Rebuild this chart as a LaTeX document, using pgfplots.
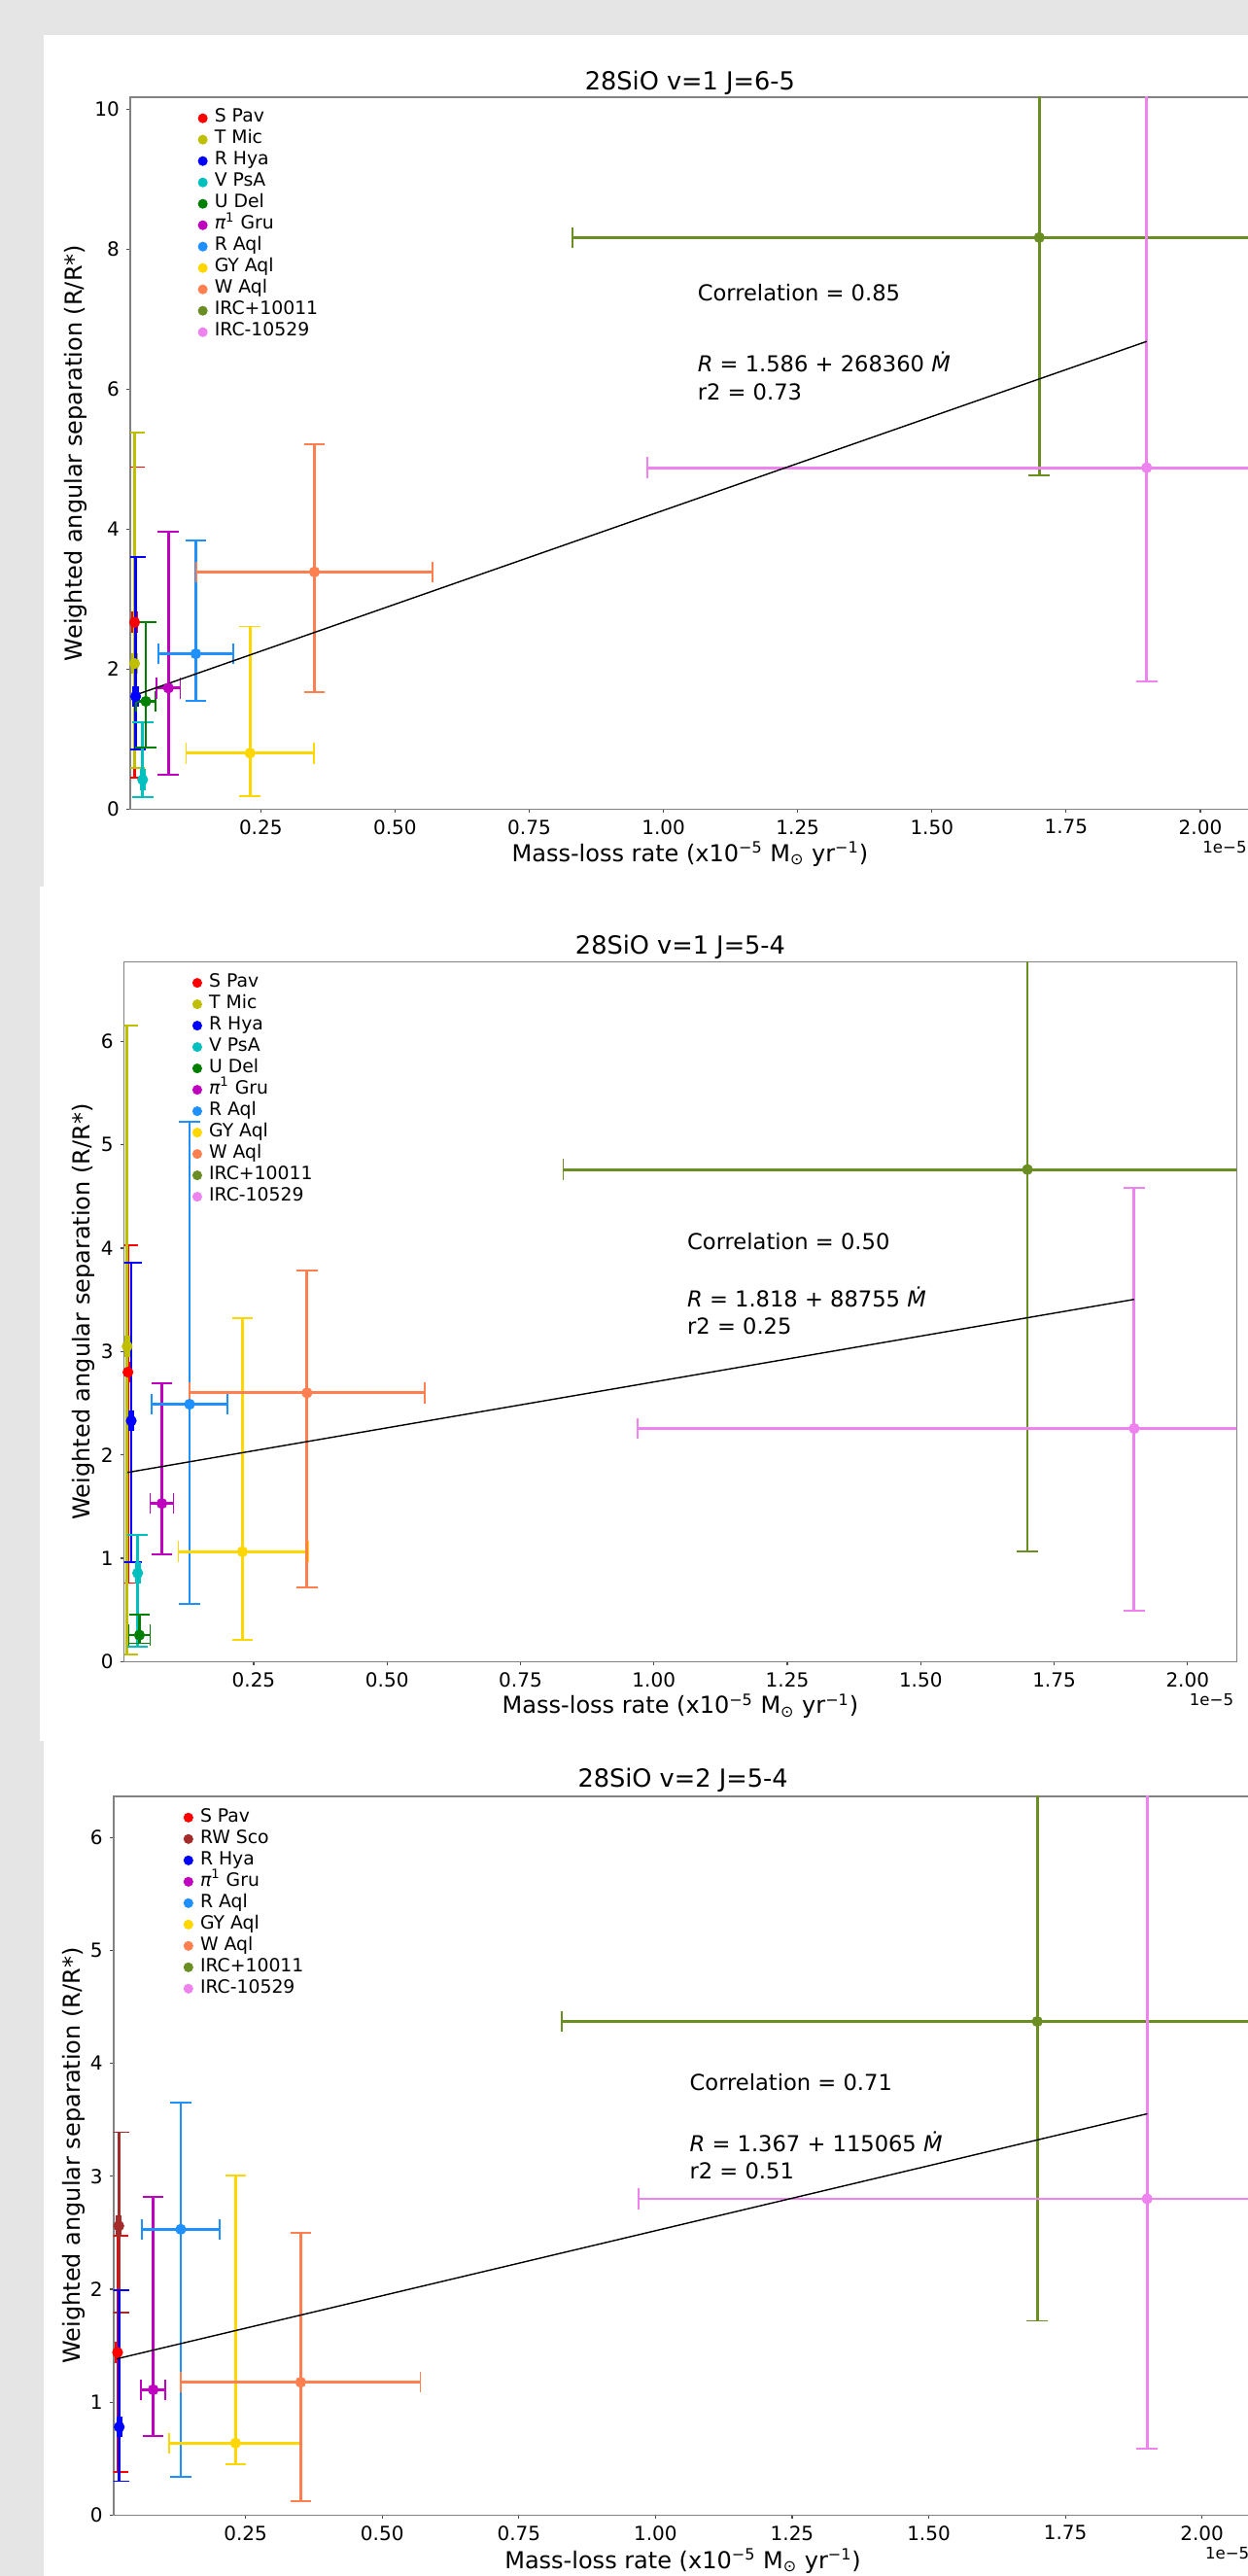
\documentclass[border=0pt]{standalone}
\usepackage{fontspec}
\setmainfont{DejaVu Sans}
\usepackage{pgfplots}
\pgfplotsset{compat=1.18}
\definecolor{cSPav}{rgb}{1,0,0}
\definecolor{cTMic}{rgb}{0.75,0.75,0}
\definecolor{cRHya}{rgb}{0,0,1}
\definecolor{cVPsA}{rgb}{0,0.75,0.75}
\definecolor{cUDel}{rgb}{0,0.5,0}
\definecolor{cPiGru}{rgb}{0.75,0,0.75}
\definecolor{cRAql}{RGB}{30,144,255}
\definecolor{cGYAql}{RGB}{255,215,0}
\definecolor{cWAql}{RGB}{255,127,80}
\definecolor{cIRCp}{RGB}{107,142,35}
\definecolor{cIRCm}{RGB}{238,130,238}
\definecolor{cRWSco}{RGB}{165,42,42}
\definecolor{bggray}{RGB}{229,229,229}
\definecolor{spine}{RGB}{130,130,130}

\tikzset{ann/.style={anchor=base west, inner sep=0pt, font=\fontsize{11.3}{13}\selectfont}}
\pgfplotsset{
  star/.style={only marks, mark=*, mark size=2.6pt, color=#1, mark options={draw=#1, fill=#1},
    error bars/x dir=both, error bars/x explicit,
    error bars/y dir=both, error bars/y explicit,
    error bars/error bar style={line width=1.4pt, color=#1},
    error bars/error mark options={rotate=90, mark size=5.4pt, line width=0.9pt, color=#1}},
  fitline/.style={black, line width=0.7pt, no marks, forget plot},
  panel/.style={scale only axis, anchor=south west,
    axis line style={spine, line width=0.8pt},
    tick align=outside, major tick length=2pt, tick style={black!70, line width=0.6pt},
    xtick={0.25,0.5,0.75,1,1.25,1.5,1.75,2},
    xticklabel style={/pgf/number format/.cd, fixed, fixed zerofill, precision=2, assume math mode=true},
    yticklabel style={/pgf/number format/assume math mode=true},
    tick label style={font=\fontsize{10}{12}\selectfont},
    xtick pos=bottom, ytick pos=left,
    legend cell align=left,
    legend image post style={mark size=2.3pt},
    legend style={draw=none, fill=none, inner sep=0pt, outer sep=0pt, anchor=north west,
      font=\fontsize{9.4}{11}\selectfont,
      nodes={inner sep=0pt, text height=7.6pt, text depth=3.4pt},
      /tikz/every odd column/.append style={column sep=3.8pt}},
    xlabel={Mass-loss rate (x10\textsuperscript{−5} M\textsubscript{⊙} yr\textsuperscript{−1})},
    ylabel={Weighted angular separation (R/R*)},
  },
}

\begin{document}
\begin{tikzpicture}
\useasboundingbox (0,0) rectangle (642pt,-1325pt);
\begin{scope}
\clip (0,0) rectangle (642pt,-1325pt);
\fill[bggray] (0,0) rectangle (642pt,-1325pt);
\fill[white] (22.5pt,-17.85pt) rectangle (642pt,-456pt);
\fill[white] (20.5pt,-456pt) rectangle (642pt,-895.5pt);
\fill[white] (22.5pt,-895.5pt) rectangle (642pt,-1325pt);

% ---------------- Panel 1 ----------------
\begin{axis}[panel, at={(67pt,-416.15pt)}, width=575.9pt, height=366.3pt,
  xmin=0.0069, xmax=2.092, ymin=0, ymax=10.18, ytick={0,2,4,6,8,10},
  title={28SiO v=1 J=6-5},
  every axis title/.style={at={(0.5,1.020)}, anchor=center, font=\fontsize{12.8}{15}\selectfont},
  every axis x label/.style={at={(0.5,-0.0628)}, anchor=center, font=\fontsize{12}{14}\selectfont},
  every axis y label/.style={at={(-0.0488,0.5)}, rotate=90, anchor=center, font=\fontsize{12}{14}\selectfont},
  legend style={at={(0.0608,0.985)}}]
\addplot[star=cSPav] coordinates {(0.015,2.67) += (0.004,2.22) -= (0.004,2.22)};
\addlegendentry{S Pav}
\addplot[star=cTMic] coordinates {(0.015,2.08) += (0.004,3.30) -= (0.004,1.49)};
\addlegendentry{T Mic}
\addplot[star=cRHya] coordinates {(0.017,1.61) += (0.004,1.99) -= (0.004,0.76)};
\addlegendentry{R Hya}
\addplot[star=cVPsA] coordinates {(0.030,0.42) += (0.004,0.82) -= (0.004,0.25)};
\addlegendentry{V PsA}
\addplot[star=cUDel] coordinates {(0.036,1.54) += (0.018,1.13) -= (0.018,0.66)};
\addlegendentry{U Del}
\addplot[star=cPiGru] coordinates {(0.078,1.73) += (0.022,2.23) -= (0.022,1.24)};
\addlegendentry{{\itshape π}\textsuperscript{1} Gru}
\addplot[star=cRAql] coordinates {(0.129,2.22) += (0.070,1.62) -= (0.070,0.67)};
\addlegendentry{R Aql}
\addplot[star=cGYAql] coordinates {(0.230,0.80) += (0.119,1.81) -= (0.119,0.61)};
\addlegendentry{GY Aql}
\addplot[star=cWAql] coordinates {(0.350,3.39) += (0.220,1.83) -= (0.220,1.72)};
\addlegendentry{W Aql}
\addplot[star=cIRCp] coordinates {(1.700,8.17) += (0.870,3.40) -= (0.870,3.40)};
\addlegendentry{IRC+10011}
\addplot[star=cIRCm] coordinates {(1.900,4.88) += (0.930,6.00) -= (0.930,3.06)};
\addlegendentry{IRC-10529}
\addplot[fitline] coordinates {(0.018,1.634) (1.900,6.685)};
\node[ann] at (axis cs:1.063,7.265) {Correlation = 0.85};
\node[ann] at (axis cs:1.063,6.255) {{\itshape R} = 1.586 + 268360 {\itshape Ṁ}};
\node[ann] at (axis cs:1.063,5.845) {r2 = 0.73};
\end{axis}
\node[anchor=east, inner sep=0pt, font=\fontsize{8.3}{10}\selectfont] at (641.5pt,-435.7pt) {1e−5};

% ---------------- Panel 2 ----------------
\begin{axis}[panel, at={(63.85pt,-854.7pt)}, width=572.3pt, height=360.05pt,
  xmin=0.0073, xmax=2.092, ymin=0, ymax=6.77, ytick={0,1,2,3,4,5,6},
  title={28SiO v=1 J=5-4},
  every axis title/.style={at={(0.5,1.0204)}, anchor=center, font=\fontsize{12.8}{15}\selectfont},
  every axis x label/.style={at={(0.5,-0.0637)}, anchor=center, font=\fontsize{12}{14}\selectfont},
  every axis y label/.style={at={(-0.0364,0.5)}, rotate=90, anchor=center, font=\fontsize{12}{14}\selectfont},
  legend style={at={(0.0617,0.985)}}]
\addplot[star=cSPav] coordinates {(0.0145,2.80) += (0.004,1.23) -= (0.004,2.04)};
\addlegendentry{S Pav}
\addplot[star=cTMic] coordinates {(0.013,3.05) += (0.004,3.10) -= (0.004,2.98)};
\addlegendentry{T Mic}
\addplot[star=cRHya] coordinates {(0.0206,2.33) += (0.004,1.53) -= (0.004,1.37)};
\addlegendentry{R Hya}
\addplot[star=cVPsA] coordinates {(0.0327,0.857) += (0.004,0.37) -= (0.004,0.71)};
\addlegendentry{V PsA}
\addplot[star=cUDel] coordinates {(0.036,0.257) += (0.020,0.20) -= (0.020,0.08)};
\addlegendentry{U Del}
\addplot[star=cPiGru] coordinates {(0.078,1.53) += (0.022,1.16) -= (0.022,0.49)};
\addlegendentry{{\itshape π}\textsuperscript{1} Gru}
\addplot[star=cRAql] coordinates {(0.130,2.49) += (0.071,2.73) -= (0.071,1.93)};
\addlegendentry{R Aql}
\addplot[star=cGYAql] coordinates {(0.229,1.064) += (0.123,2.26) -= (0.120,0.85)};
\addlegendentry{GY Aql}
\addplot[star=cWAql] coordinates {(0.350,2.60) += (0.220,1.18) -= (0.220,1.88)};
\addlegendentry{W Aql}
\addplot[star=cIRCp] coordinates {(1.700,4.76) += (0.870,3.69) -= (0.870,3.69)};
\addlegendentry{IRC+10011}
\addplot[star=cIRCm] coordinates {(1.900,2.255) += (0.930,2.33) -= (0.930,1.76)};
\addlegendentry{IRC-10529}
\addplot[fitline] coordinates {(0.0135,1.830) (1.900,3.504)};
\node[ann] at (axis cs:1.062,3.99) {Correlation = 0.50};
\node[ann] at (axis cs:1.062,3.43) {{\itshape R} = 1.818 + 88755 {\itshape Ṁ}};
\node[ann] at (axis cs:1.062,3.17) {r2 = 0.25};
\end{axis}
\node[anchor=east, inner sep=0pt, font=\fontsize{8.3}{10}\selectfont] at (634.75pt,-874.2pt) {1e−5};

% ---------------- Panel 3 ----------------
\begin{axis}[panel, at={(58.35pt,-1293.65pt)}, width=585.85pt, height=369.8pt,
  xmin=0.0082, xmax=2.092, ymin=0, ymax=6.365, ytick={0,1,2,3,4,5,6},
  title={28SiO v=2 J=5-4},
  every axis title/.style={at={(0.5,1.0218)}, anchor=center, font=\fontsize{12.8}{15}\selectfont},
  every axis x label/.style={at={(0.5,-0.064)}, anchor=center, font=\fontsize{12}{14}\selectfont},
  every axis y label/.style={at={(-0.0347,0.5)}, rotate=90, anchor=center, font=\fontsize{12}{14}\selectfont},
  legend style={at={(0.0619,0.985)}}]
\addplot[star=cSPav] coordinates {(0.0158,1.44) += (0.004,1.03) -= (0.004,1.06)};
\addlegendentry{S Pav}
\addplot[star=cRWSco] coordinates {(0.018,2.56) += (0.004,0.83) -= (0.004,0.77)};
\addlegendentry{RW Sco}
\addplot[star=cRHya] coordinates {(0.0188,0.78) += (0.004,1.21) -= (0.004,0.48)};
\addlegendentry{R Hya}
\addplot[star=cPiGru] coordinates {(0.081,1.11) += (0.022,1.71) -= (0.022,0.41)};
\addlegendentry{{\itshape π}\textsuperscript{1} Gru}
\addplot[star=cRAql] coordinates {(0.1314,2.53) += (0.071,1.12) -= (0.071,2.19)};
\addlegendentry{R Aql}
\addplot[star=cGYAql] coordinates {(0.2316,0.637) += (0.119,2.37) -= (0.121,0.19)};
\addlegendentry{GY Aql}
\addplot[star=cWAql] coordinates {(0.3508,1.176) += (0.219,1.32) -= (0.219,1.05)};
\addlegendentry{W Aql}
\addplot[star=cIRCp] coordinates {(1.6986,4.37) += (0.870,2.65) -= (0.870,2.65)};
\addlegendentry{IRC+10011}
\addplot[star=cIRCm] coordinates {(1.8995,2.80) += (0.930,3.80) -= (0.930,2.21)};
\addlegendentry{IRC-10529}
\addplot[fitline] coordinates {(0.014,1.383) (1.900,3.553)};
\node[ann] at (axis cs:1.062,3.76) {Correlation = 0.71};
\node[ann] at (axis cs:1.062,3.22) {{\itshape R} = 1.367 + 115065 {\itshape Ṁ}};
\node[ann] at (axis cs:1.062,2.98) {r2 = 0.51};
\end{axis}
\node[anchor=east, inner sep=0pt, font=\fontsize{8.3}{10}\selectfont] at (642.85pt,-1313.35pt) {1e−5};
\end{scope}
\end{tikzpicture}
\end{document}
